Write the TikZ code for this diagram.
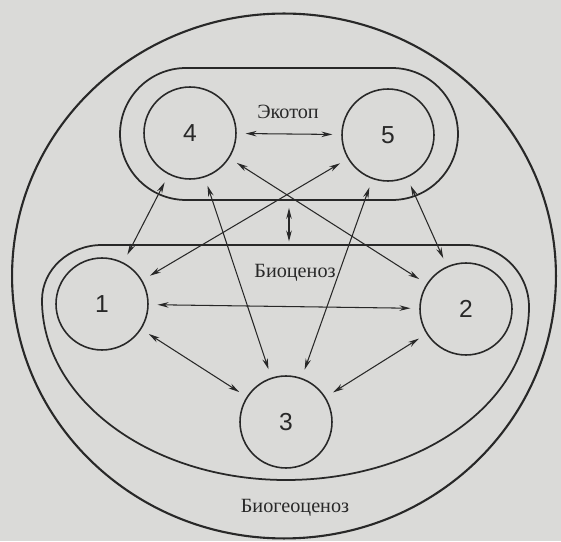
\documentclass[tikz,border=0pt]{standalone}
\usepackage{fontspec}
\setmainfont{Liberation Serif}
\setsansfont{Liberation Sans}
\usetikzlibrary{arrows.meta, positioning, shapes.geometric}
\definecolor{paper}{RGB}{218,218,216}
\definecolor{ink}{RGB}{40,40,40}

\begin{document}
\begin{tikzpicture}[
            x=0.02cm, y=0.02cm,
            unit/.style={circle, draw=ink, line width=0.9pt, minimum size=1.84cm, inner sep=0pt, text=ink, font=\sffamily\fontsize{14}{14}\selectfont},
            zone/.style={draw=ink, line width=1pt},
            labeltext/.style={text=ink, font=\fontsize{11.5}{13}\selectfont},
            arrow/.style={{Stealth[length=2.2mm,width=1.1mm]}-{Stealth[length=2.2mm,width=1.1mm]}, draw=ink, line width=0.6pt, shorten <=5pt, shorten >=5pt}
        ]
            \fill[paper] (0,0) rectangle (561,541);
            \useasboundingbox (0,0) rectangle (561,541);

            \node[ellipse, zone, line width=1.2pt, inner sep=0pt, minimum width=10.88cm, minimum height=10.5cm] (biogeo) at (284,265) {};

            \node[zone, rectangle, rounded corners=1.32cm, inner sep=0pt, minimum width=6.76cm, minimum height=2.64cm] (ekotop) at (289,407) {};

            \draw[zone] (102,296) -- (466,296)
                arc[start angle=90, end angle=0, x radius=63, y radius=62]
                arc[start angle=0, end angle=-90, x radius=243, y radius=173]
                arc[start angle=-90, end angle=-180, x radius=244, y radius=180]
                arc[start angle=180, end angle=90, x radius=60, y radius=55] -- cycle;
            \coordinate (biotop) at (289,296);

            \node[unit] (c4) at (190,408) {4};
            \node[unit] (c5) at (388,406) {5};
            \node[unit] (c1) at (102,237) {1};
            \node[unit] (c2) at (466,232) {2};
            \node[unit] (c3) at (286,119) {3};

            \node[labeltext] (ekotopname) at (288,429) {Экотоп};
            \node[labeltext] (bioname) at (295,268) {Биоценоз};
            \node[labeltext] (biogeoname) at (295,33) {Биогеоценоз};

            \draw[arrow] (c4) -- (c5);
            \draw[arrow] (c4) -- (c2);
            \draw[arrow] (c5) -- (c1);
            \draw[arrow] (c4) -- (c1);
            \draw[arrow] (c4) -- (c3);
            \draw[arrow] (c5) -- (c3);
            \draw[arrow] (c5) -- (c2);
            \draw[arrow] (c1) -- (c2);
            \draw[arrow] (c1) -- (c3);
            \draw[arrow] (c2) -- (c3);
            \draw[arrow, shorten <=4pt, shorten >=2pt] (ekotop.south) -- (biotop);
        \end{tikzpicture}
\end{document}
